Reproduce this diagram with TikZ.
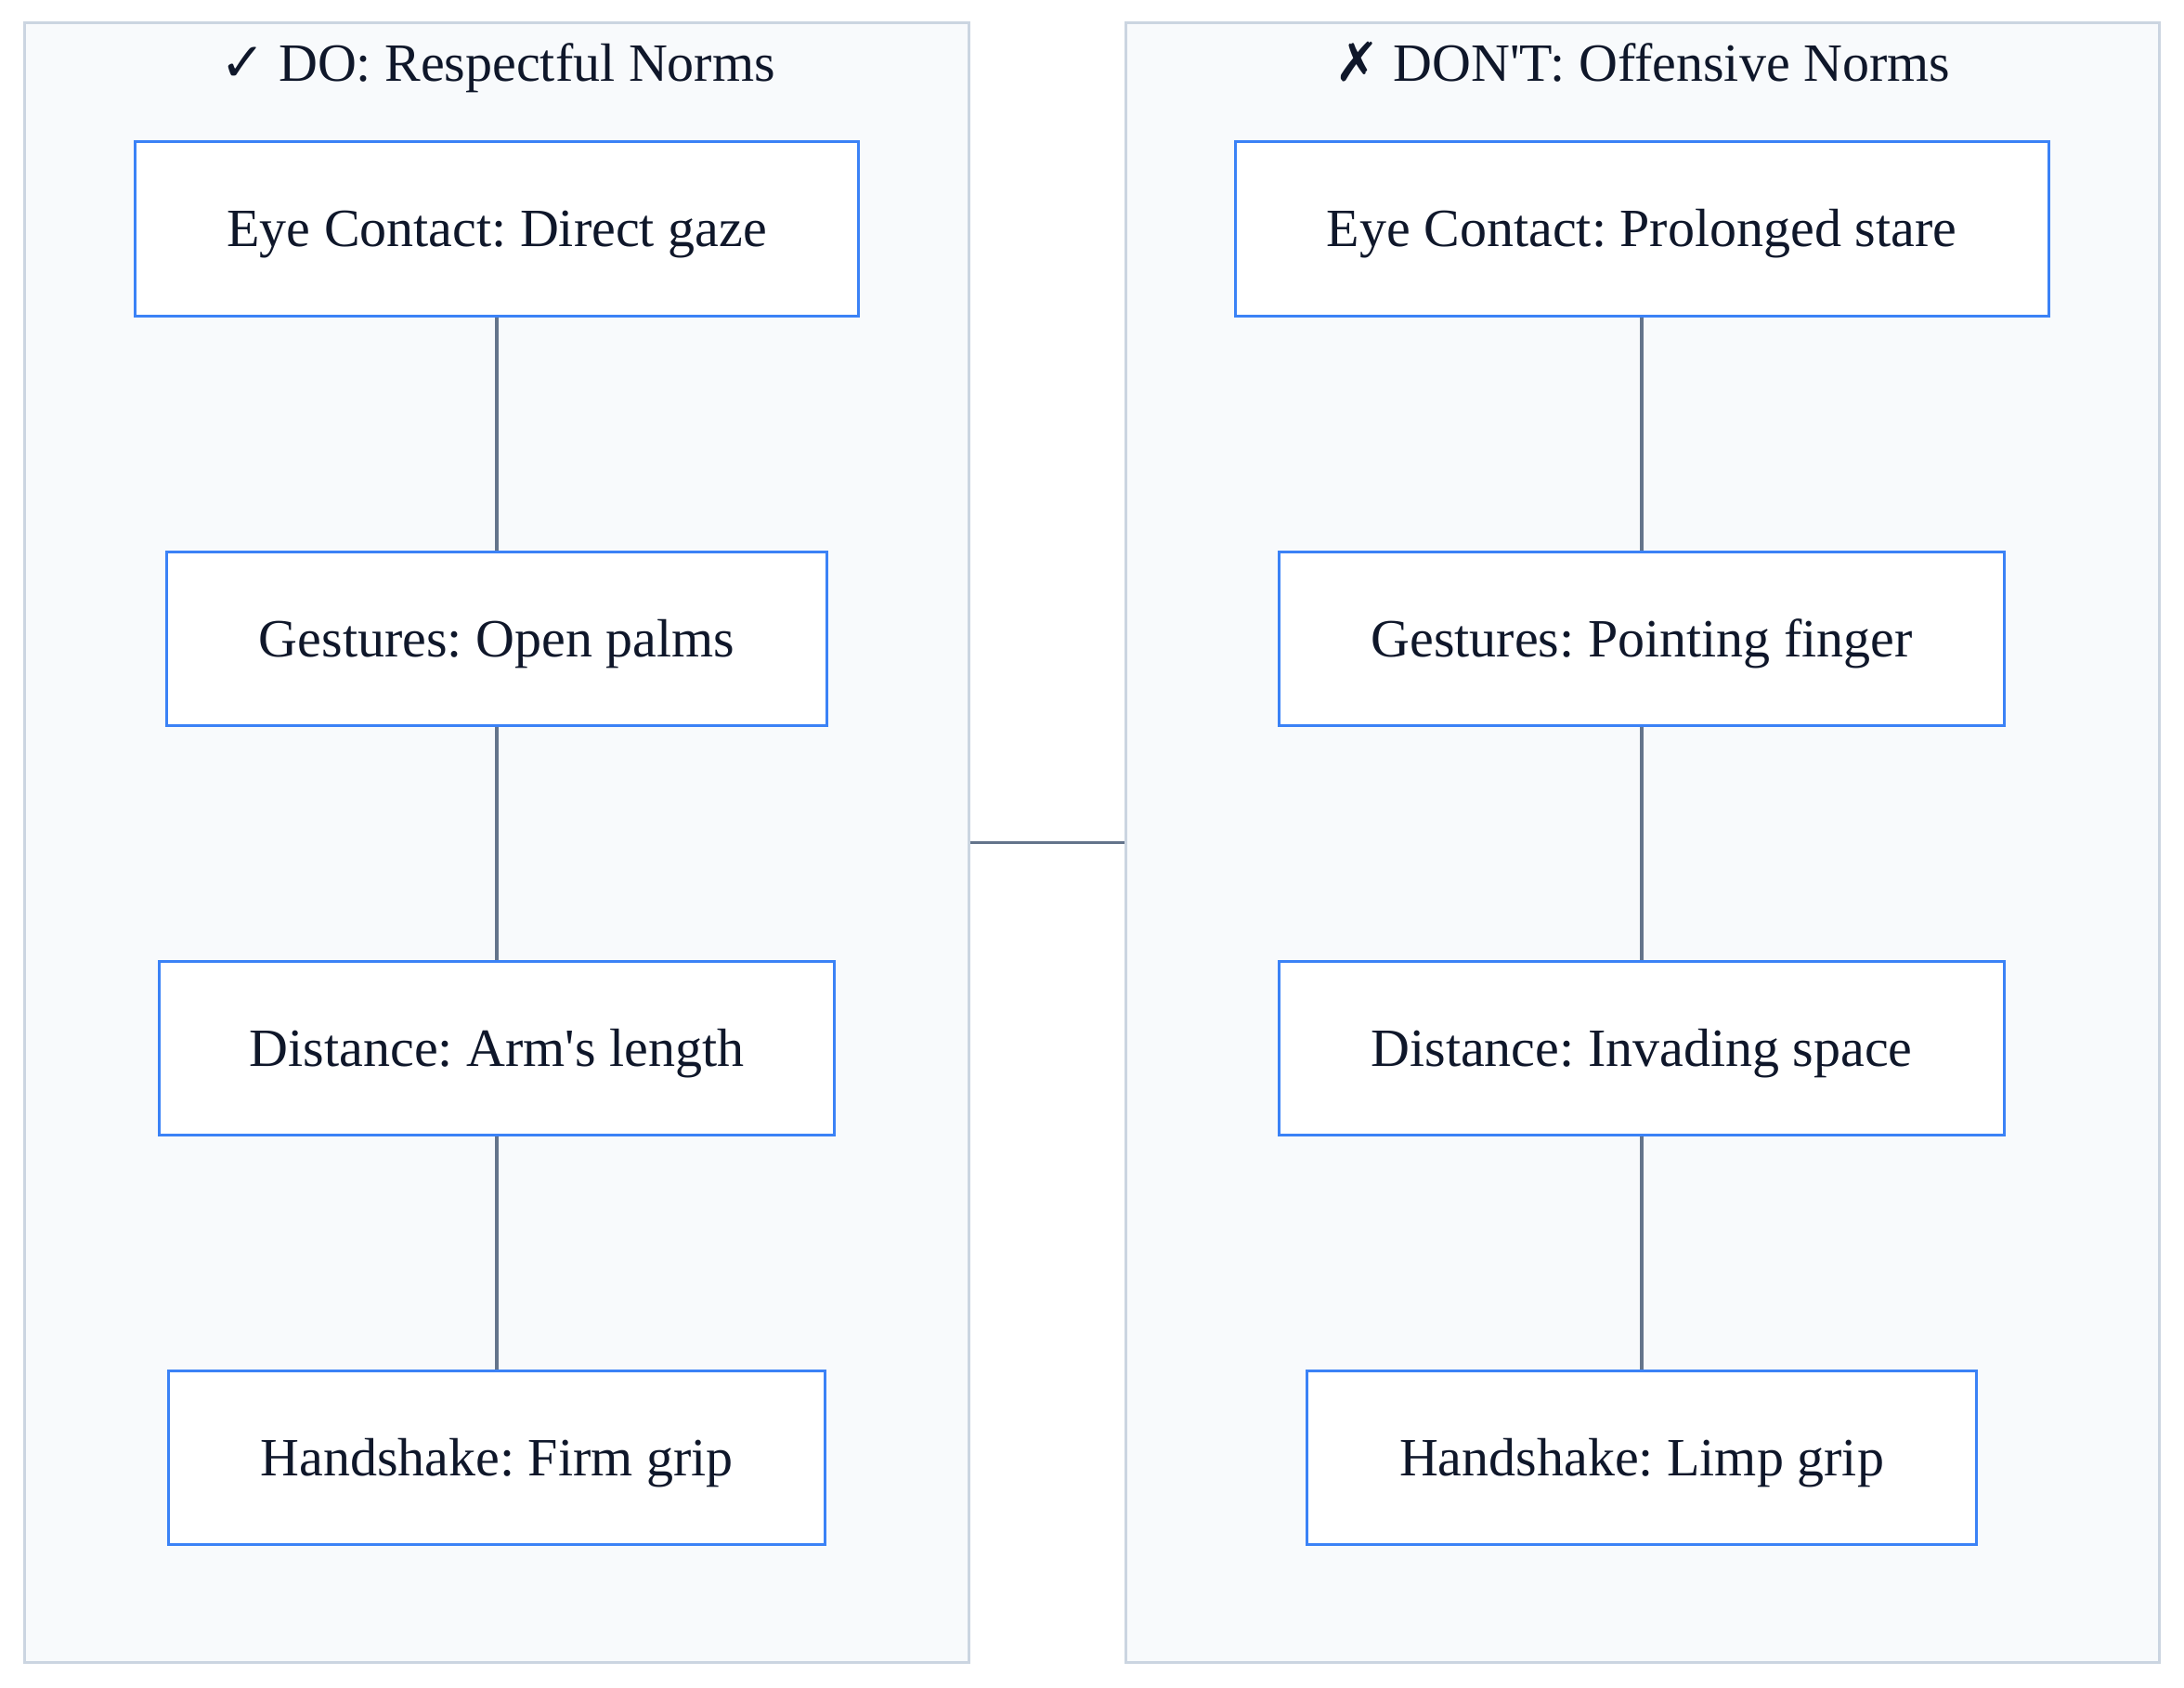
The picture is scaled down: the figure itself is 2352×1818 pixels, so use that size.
\documentclass[tikz,border=0pt]{standalone}
\usepackage{fontspec}
\setmainfont{Liberation Serif}
\newfontfamily\symfont{DejaVu Sans}
\newfontfamily\aposfont[Ligatures=ResetAll]{Liberation Serif}
\frenchspacing
\definecolor{cfill}{HTML}{F8FAFC}
\definecolor{cborder}{HTML}{CBD5E1}
\definecolor{bborder}{HTML}{3B82F6}
\definecolor{edgecol}{HTML}{64748B}
\definecolor{txt}{HTML}{0F172A}
\newcommand{\sq}{{\aposfont '}}
\begin{document}
\begin{tikzpicture}[x=0.4pt,y=-0.4pt,
  container/.style={draw=cborder,fill=cfill,line width=1.2pt,inner sep=0pt,rectangle},
  itembox/.style={draw=bborder,fill=white,line width=1.2pt,inner sep=0pt,minimum height=74.8pt,text height=15.6pt,text depth=0pt,font=\fontsize{23.2}{28}\selectfont,text=txt},
  titletext/.style={font=\fontsize{23.2}{28}\selectfont,text=txt,inner sep=0pt,anchor=base},
  link/.style={draw=edgecol,line width=1.3pt}]
\useasboundingbox[fill=white] (0,0) rectangle (2352,1818);
\node[container,minimum width=406.4pt,minimum height=706pt] (L) at (535,907.5) {};
\node[container,minimum width=445.2pt,minimum height=706pt] (R) at (1768.5,907.5) {};
\node[titletext] (Lt) at (536,88) {{\symfont ✓} DO: Respectful Norms};
\node[titletext] (Rt) at (1769,88) {{\symfont ✗} DON\sq T: Offensive Norms};
\node[itembox,minimum width=311.6pt] (l1) at (535,246.5) {Eye Contact: Direct gaze};
\node[itembox,minimum width=284.4pt] (l2) at (535,688) {Gestures: Open palms};
\node[itembox,minimum width=290.8pt] (l3) at (535,1128.5) {Distance: Arm\sq s length};
\node[itembox,minimum width=282.8pt] (l4) at (535,1570) {Handshake: Firm grip};
\node[itembox,minimum width=350.4pt] (r1) at (1768,246.5) {Eye Contact: Prolonged stare};
\node[itembox,minimum width=312.4pt] (r2) at (1768,688) {Gestures: Pointing finger};
\node[itembox,minimum width=312.4pt] (r3) at (1768,1128.5) {Distance: Invading space};
\node[itembox,minimum width=288.4pt] (r4) at (1768,1570) {Handshake: Limp grip};
\draw[link] (l1) -- (l2);
\draw[link] (l2) -- (l3);
\draw[link] (l3) -- (l4);
\draw[link] (r1) -- (r2);
\draw[link] (r2) -- (r3);
\draw[link] (r3) -- (r4);
\draw[link] (L.east) -- (R.west);
\end{tikzpicture}
\end{document}
